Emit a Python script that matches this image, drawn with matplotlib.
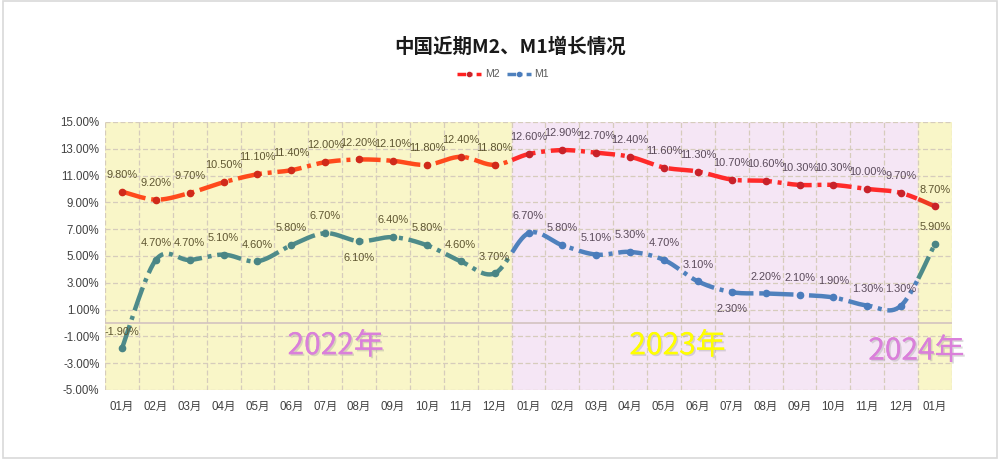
import numpy as np
import matplotlib.pyplot as plt
import matplotlib.patheffects as pe
from matplotlib.patches import Rectangle

plt.rcParams['font.family'] = ['Liberation Sans', 'Noto Sans CJK SC', 'DejaVu Sans']

months = ["01月", "02月", "03月", "04月", "05月", "06月", "07月", "08月", "09月", "10月", "11月", "12月",
          "01月", "02月", "03月", "04月", "05月", "06月", "07月", "08月", "09月", "10月", "11月", "12月",
          "01月"]
m2 = [9.8, 9.2, 9.7, 10.5, 11.1, 11.4, 12.0, 12.2, 12.1, 11.8, 12.4, 11.8,
      12.6, 12.9, 12.7, 12.4, 11.6, 11.3, 10.7, 10.6, 10.3, 10.3, 10.0, 9.7,
      8.7]
m1 = [-1.9, 4.7, 4.7, 5.1, 4.6, 5.8, 6.7, 6.1, 6.4, 5.8, 4.6, 3.7,
      6.7, 5.8, 5.1, 5.3, 4.7, 3.1, 2.3, 2.2, 2.1, 1.9, 1.3, 1.3,
      5.9]
# labels drawn below the point instead of above
m1_below = [7, 18]

yellow = "#f9f6c8"
pink = "#f5e6f5"
m2_cols = ["#ff4a1c", "#ff2a2a", "#ee3a22"]
m1_cols = ["#4e8b8a", "#4f81bd", "#4e8b8a"]


def smooth(y, n=30):
    # excel-like smoothed line: cubic bezier with catmull-rom control points
    y = np.asarray(y, dtype=float)
    x = np.arange(len(y), dtype=float)
    P = np.column_stack([x, y])
    out = []
    for i in range(len(P) - 1):
        p0 = P[max(i - 1, 0)]
        p1 = P[i]
        p2 = P[i + 1]
        p3 = P[min(i + 2, len(P) - 1)]
        c1 = p1 + (p2 - p0) / 6
        c2 = p2 - (p3 - p1) / 6
        t = np.linspace(0, 1, n)[:, None]
        seg = ((1 - t) ** 3) * p1 + 3 * ((1 - t) ** 2) * t * c1 + 3 * (1 - t) * t ** 2 * c2 + t ** 3 * p2
        out.append(seg if i == 0 else seg[1:])
    s = np.vstack(out)
    return s[:, 0], s[:, 1]


fig = plt.figure(figsize=(10, 4.62), dpi=100)
fig.patches.append(Rectangle((0.003, 0.009), 0.994, 0.988, transform=fig.transFigure,
                             fill=False, edgecolor="#d9d9d9", lw=1.2))
ax = fig.add_axes([0.105, 0.156, 0.847, 0.58])

ax.axvspan(-0.5, 11.5, color=yellow, zorder=0)
ax.axvspan(11.5, 23.5, color=pink, zorder=0)
ax.axvspan(23.5, 24.5, color=yellow, zorder=0)

for v in np.arange(-0.5, 25, 1):
    ax.axvline(v, color="#d6ccbc", lw=0.9, ls=(0, (4, 2)), zorder=1)
for v in np.arange(-5, 16, 2):
    ax.axhline(v, color="#d6ccbc", lw=0.9, ls=(0, (4, 2)), zorder=1)
ax.axhline(0, color="#d3c3c0", lw=1.2, zorder=1)

dash = (0, (5.5, 1.3, 0.9, 1.3))
bounds = [-1, 11.5, 23.5, 30]
for vals, cols, mcol in [(m2, m2_cols, ["#d02a1a", "#c8222a", "#c8222a"]),
                         (m1, m1_cols, ["#4a8585", "#4a7cbc", "#4a8585"])]:
    sx, sy = smooth(vals)
    for k in range(3):
        msk = (sx >= bounds[k]) & (sx <= bounds[k + 1])
        ax.plot(sx[msk], sy[msk], color=cols[k], lw=3.2, ls=dash, zorder=3,
                dash_capstyle="butt")
    xs = np.arange(len(vals))
    for k in range(3):
        sel = (xs > bounds[k]) & (xs < bounds[k + 1])
        ax.plot(xs[sel], np.array(vals)[sel], "o", color=mcol[k], ms=4.5, zorder=4)

for i, v in enumerate(m2):
    c = "#5e5530" if (i < 12 or i == 24) else "#5a4a5a"
    ax.annotate(f"{v:.2f}%", (i, v), xytext=(0, 8.5), textcoords="offset points",
                ha="center", va="bottom", fontsize=7.9, color=c, zorder=5)
for i, v in enumerate(m1):
    c = "#5e5530" if (i < 12 or i == 24) else "#5a4a5a"
    if i in m1_below:
        ax.annotate(f"{v:.2f}%", (i, v), xytext=(0, -8.5), textcoords="offset points",
                    ha="center", va="top", fontsize=7.9, color=c, zorder=5)
    else:
        ax.annotate(f"{v:.2f}%", (i, v), xytext=(0, 8.5), textcoords="offset points",
                    ha="center", va="bottom", fontsize=7.9, color=c, zorder=5)

shadow = [pe.withSimplePatchShadow(offset=(1.2, -1.2), shadow_rgbFace="#999999", alpha=0.35), pe.Normal()]
ax.text(6.31, -1.7, "2022年", fontsize=21.5, color="#da80da", ha="center", va="center",
        family=["Noto Sans CJK SC"], path_effects=shadow, zorder=6)
ax.text(16.4, -1.7, "2023年", fontsize=21.5, color="#ffff00", ha="center", va="center",
        family=["Noto Sans CJK SC"], path_effects=shadow, zorder=6)
ax.text(23.45, -2.1, "2024年", fontsize=21.5, color="#da80da", ha="center", va="center",
        family=["Noto Sans CJK SC"], path_effects=shadow, zorder=6, clip_on=False)

ax.set_xlim(-0.5, 24.5)
ax.set_ylim(-5, 15)
ax.set_xticks(np.arange(len(months)))
ax.set_xticklabels(months, fontsize=8.3, color="#404040")
ax.set_yticks(np.arange(-5, 16, 2))
ax.set_yticklabels([f"{v:.2f}%" for v in np.arange(-5, 16, 2)], fontsize=8.3, color="#404040")
ax.tick_params(length=0, pad=8)
ax.tick_params(axis="y", pad=4)
for s in ax.spines.values():
    s.set_visible(False)

fig.text(0.51, 0.898, "中国近期M2、M1增长情况", ha="center", va="center", fontsize=14,
         fontweight="bold", family=["Noto Sans CJK SC"], color="#1a1a1a")

# legend
lax = fig.add_axes([0.455, 0.825, 0.11, 0.03])
lax.set_xlim(0, 1)
lax.set_ylim(0, 1)
lax.axis("off")
lax.plot([0.02, 0.24], [0.5, 0.5], color="#ff2020", lw=2.5, ls=(0, (2.5, 1.2, 0.6, 1.2)))
lax.plot([0.13], [0.5], "o", color="#c8222a", ms=3)
lax.text(0.27, 0.5, "M2", fontsize=7.5, color="#595959", va="center")
lax.plot([0.47, 0.69], [0.5, 0.5], color="#4f81bd", lw=2.5, ls=(0, (2.5, 1.2, 0.6, 1.2)))
lax.plot([0.58], [0.5], "o", color="#4a7cbc", ms=3)
lax.text(0.72, 0.5, "M1", fontsize=7.5, color="#595959", va="center")

fig.savefig("out.png", dpi=100)
